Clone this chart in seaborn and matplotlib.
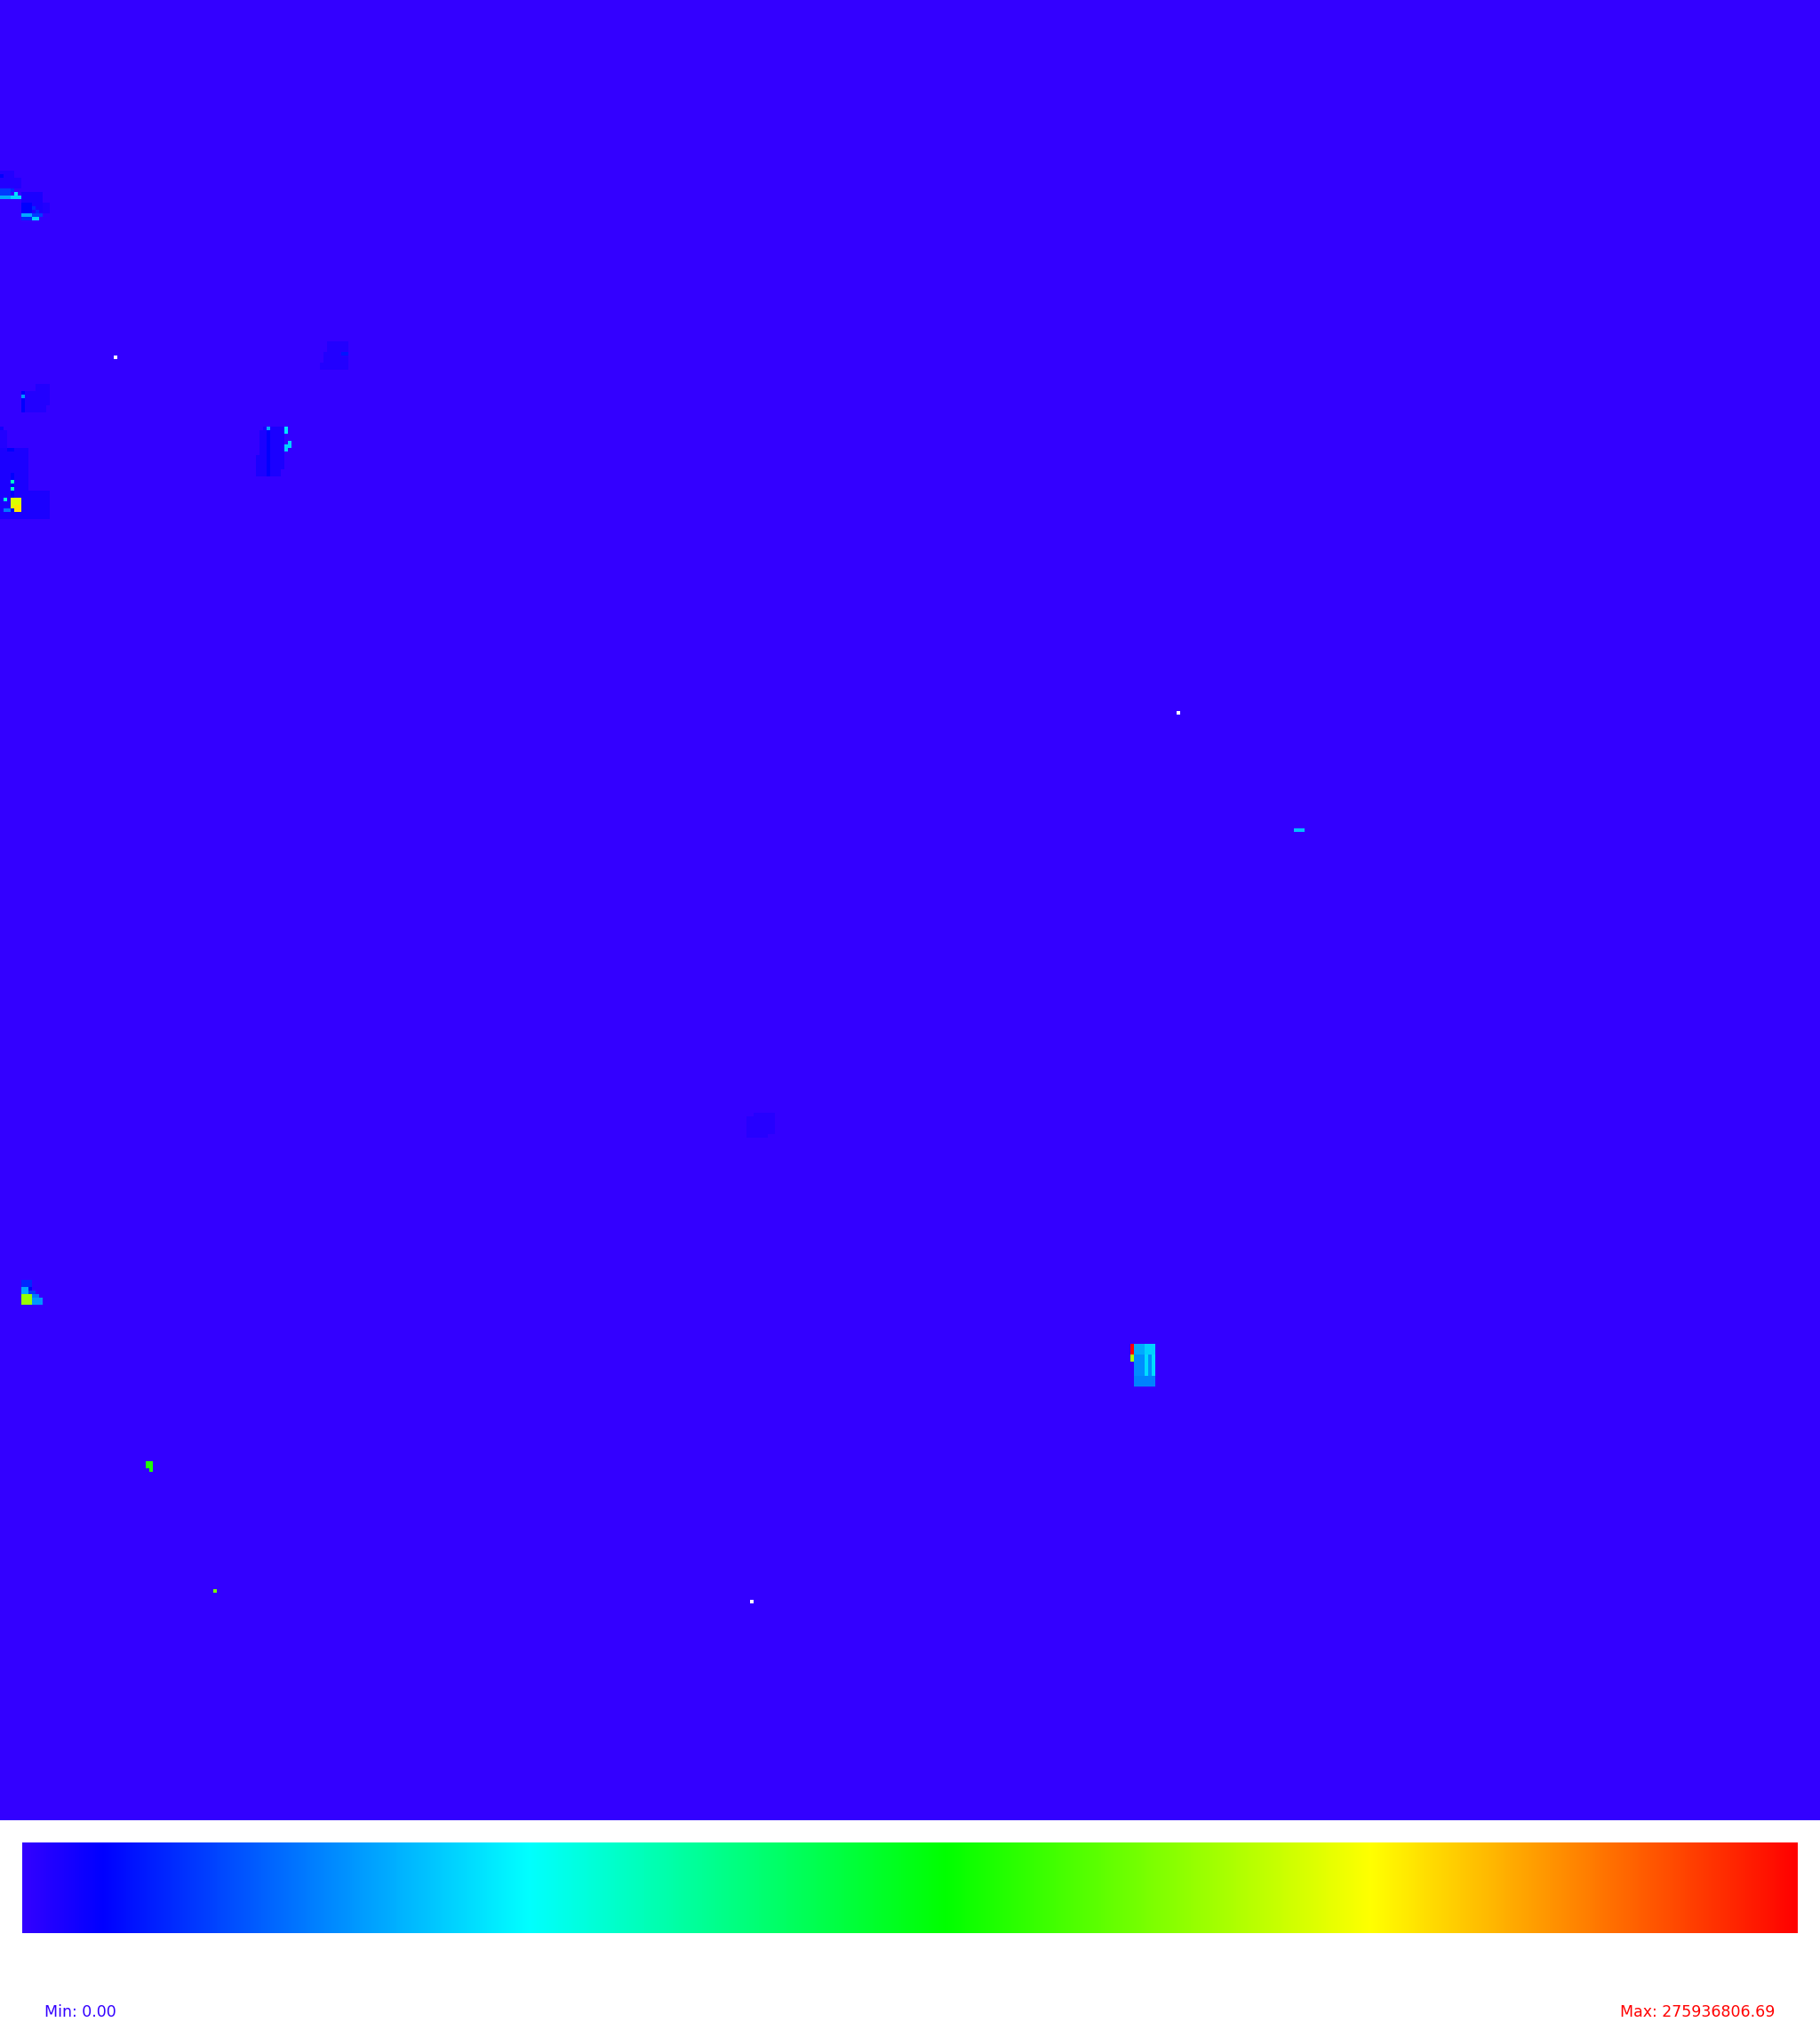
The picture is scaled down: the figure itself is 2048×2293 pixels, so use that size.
import numpy as np
import matplotlib
matplotlib.use("Agg")
import matplotlib.pyplot as plt
from matplotlib.colors import LinearSegmentedColormap
import seaborn as sns

GRID_SIZE = 512

# sparse blocks of the grid: rows [r0, r1), cols [c0, c1), value (nan = no data)
blk_r0 = [48, 50, 49, 53, 53, 54, 55, 55, 54, 57, 57, 58, 59, 57, 60, 60, 61, 61,   # patch near top-left
          96, 99, 102, 99,                                                       # small dark patch
          100,                                                                   # missing cell
          108, 110, 114, 110, 111,
          120, 121, 126, 138, 126, 133, 135, 137, 140, 140, 142, 142, 143, 143,
          120, 120, 120, 121, 128, 132, 121, 124, 125,
          233, 200,
          313, 314,
          360, 362, 362, 363, 364, 364, 365,
          378, 381, 378, 378, 381, 381, 381, 387,
          411, 413, 447, 450]
blk_r1 = [50, 53, 50, 55, 54, 55, 56, 56, 57, 60, 60, 59, 60, 60, 61, 61, 62, 62,
          99, 102, 104, 100,
          101,
          110, 114, 116, 116, 112,
          121, 126, 138, 146, 127, 140, 136, 138, 141, 142, 144, 143, 144, 144,
          121, 121, 122, 128, 132, 134, 134, 126, 127,
          234, 201,
          319, 320,
          362, 364, 363, 364, 367, 365, 367,
          381, 383, 381, 381, 387, 387, 387, 390,
          413, 414, 448, 451]
blk_c0 = [0, 0, 0, 0, 3, 4, 0, 3, 6, 6, 9, 9, 10, 12, 6, 9, 6, 9,
          92, 91, 90, 96,
          32,
          10, 6, 6, 6, 6,
          0, 0, 0, 0, 2, 3, 3, 3, 1, 3, 4, 3, 3, 1,
          74, 75, 80, 73, 72, 72, 75, 81, 80,
          364, 331,
          212, 210,
          6, 6, 8, 8, 6, 9, 9,
          318, 318, 319, 322, 319, 322, 324, 319,
          41, 42, 60, 211]
blk_c1 = [4, 6, 1, 3, 4, 5, 3, 6, 12, 9, 12, 10, 11, 14, 9, 12, 9, 11,
          98, 98, 98, 98,
          33,
          14, 14, 13, 7, 7,
          1, 2, 8, 14, 4, 4, 4, 4, 2, 6, 6, 4, 4, 3,
          80, 76, 81, 80, 80, 79, 76, 82, 81,
          367, 332,
          218, 216,
          9, 8, 9, 10, 9, 11, 12,
          319, 319, 322, 325, 325, 323, 325, 325,
          43, 43, 61, 212]
blk_val = [4.1e6, 4.1e6, 12.4e6, 27.9e6, 22.8e6, 72.1e6, 56.6e6, 67.0e6, 6.0e6,
           12.4e6, 6.0e6, 22.8e6, 22.8e6, 4.1e6, 56.6e6, 27.9e6, 22.8e6, 67.0e6,
           4.1e6, 4.1e6, 4.1e6, 17.7e6,
           np.nan,
           4.1e6, 4.1e6, 4.1e6, 12.4e6, 51.4e6,
           8.0e6, 4.1e6, 6.0e6, 6.0e6, 12.4e6, 12.4e6, 92.7e6, 92.7e6, 87.5e6,
           200.6e6, 216.3e6, 200.6e6, 12.4e6, 43.5e6,
           6.0e6, 56.6e6, 72.1e6, 6.0e6, 6.0e6, 6.0e6, 12.4e6, 67.0e6, 67.0e6,
           61.8e6, np.nan,
           3.5e6, 3.5e6,
           22.8e6, 56.6e6, 12.4e6, 27.9e6, 182.4e6, 43.5e6, 51.4e6,
           275936806.69, 187.6e6, 56.6e6, 67.0e6, 48.8e6, 70.0e6, 70.0e6, 46.0e6,
           151.3e6, 151.3e6, 174.7e6, np.nan]

cmap_pos = [0.0, 0.045, 0.285, 0.52, 0.76, 1.0]
cmap_colors = ["#3300ff", "#0000ff", "#00ffff", "#00ff00", "#ffff00", "#ff0000"]

grid = np.zeros((GRID_SIZE, GRID_SIZE))
for r0, r1, c0, c1, v in zip(blk_r0, blk_r1, blk_c0, blk_c1, blk_val):
    grid[r0:r1, c0:c1] = v

vmin = np.nanmin(grid)
vmax = np.nanmax(grid)

cmap = LinearSegmentedColormap.from_list("heat", list(zip(cmap_pos, cmap_colors)), N=1024)

sns.set_style("white")
W, H = 2048, 2293
fig = plt.figure(figsize=(W / 100, H / 100), dpi=100)
fig.patch.set_facecolor("white")

ax = fig.add_axes([0, 1 - 2048 / H, 1, 2048 / H])
sns.heatmap(grid, ax=ax, cmap=cmap, vmin=vmin, vmax=vmax, cbar=False,
            xticklabels=False, yticklabels=False)
ax.set_facecolor("white")
ax.set_xlabel("")
ax.set_ylabel("")

cax = fig.add_axes([25 / W, (H - 2175) / H, 1998 / W, 102 / H])
cb = fig.colorbar(ax.collections[0], cax=cax, orientation="horizontal")
cb.set_ticks([])
cb.outline.set_visible(False)

fig.text(50 / W, 1 - 2264 / H, f"Min: {vmin:.2f}", color="#3300ff",
         fontsize=12.5, ha="left", va="center")
fig.text(1997 / W, 1 - 2264 / H, f"Max: {vmax:.2f}", color="#ff0000",
         fontsize=12.5, ha="right", va="center")

fig.savefig("out.png", dpi=100)
